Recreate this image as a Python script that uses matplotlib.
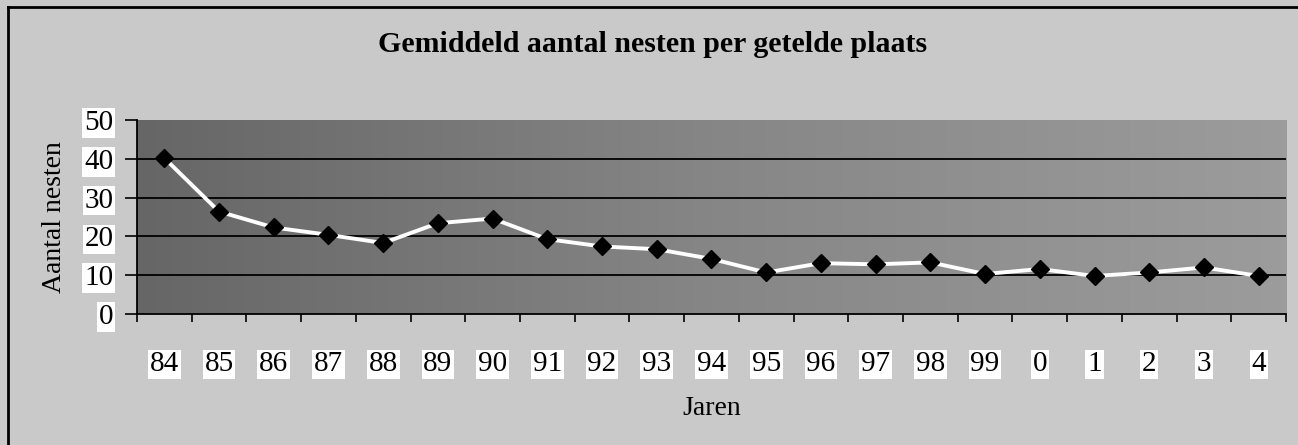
import numpy as np
import matplotlib
matplotlib.use("Agg")
import matplotlib.pyplot as plt
from matplotlib.colors import LinearSegmentedColormap

# Données
jaren = ["84", "85", "86", "87", "88", "89", "90", "91", "92", "93", "94",
         "95", "96", "97", "98", "99", "0", "1", "2", "3", "4"]
nesten = [40.2, 26.4, 22.3, 20.4, 18.3, 23.4, 24.6, 19.3, 17.4, 16.7, 14.2,
          10.7, 13.1, 12.8, 13.3, 10.3, 11.6, 9.8, 10.7, 12.0, 9.8]
y_ticks = [0, 10, 20, 30, 40, 50]

plt.rcParams['font.family'] = ['Liberation Serif', 'DejaVu Serif']

fig = plt.figure(figsize=(12.98, 4.45), dpi=100)
fig.patch.set_facecolor("#c9c9c9")
ax = fig.add_axes([0.1055, 0.2944, 0.8853, 0.4359])

# fond du graphique en dégradé (plus sombre à gauche)
cmap = LinearSegmentedColormap.from_list("fond", ["#666666", "#868686", "#9c9c9c"])
ax.imshow(np.linspace(0, 1, 256).reshape(1, -1), cmap=cmap, aspect="auto",
          extent=[0, 1, 0, 1], transform=ax.transAxes, zorder=0)

x = np.arange(len(jaren))
ax.plot(x, nesten, color="white", lw=2.8, zorder=3)
ax.plot(x, nesten, linestyle="none", marker="D", markersize=9.5,
        color="black", zorder=4)

ax.set_xlim(-0.5, len(jaren) - 0.5)
ax.set_ylim(0, 50)

# quadrillage horizontal
for v in y_ticks[1:-1]:
    ax.axhline(v, color="black", lw=1.3, zorder=2)

for s in ["top", "right"]:
    ax.spines[s].set_visible(False)
ax.spines["left"].set_linewidth(1.3)
ax.spines["bottom"].set_linewidth(1.3)
ax.spines["left"].set_zorder(5)
ax.spines["bottom"].set_zorder(5)

# graduations de l'axe x aux limites des catégories, étiquettes au centre
ax.set_xticks(np.arange(-0.5, len(jaren)), labels=[""] * (len(jaren) + 1))
ax.tick_params(axis="x", which="major", direction="out", length=6, width=1.2)
ax.set_xticks(x, labels=jaren, minor=True)
ax.tick_params(axis="x", which="minor", length=0, pad=27, labelsize=21)
for lab in ax.get_xticklabels(minor=True):
    lab.set_bbox(dict(facecolor="white", edgecolor="none", pad=1.2))

ax.set_yticks(y_ticks, labels=[str(v) for v in y_ticks])
ax.tick_params(axis="y", direction="out", length=9, width=1.2, pad=8, labelsize=21)
for lab in ax.get_yticklabels():
    lab.set_bbox(dict(facecolor="white", edgecolor="none", pad=1.2))

fig.text(0.503, 0.90, "Gemiddeld aantal nesten per getelde plaats",
         ha="center", va="center", fontsize=21.5, fontweight="bold")
fig.text(0.548, 0.083, "Jaren", ha="center", va="center", fontsize=20)
fig.text(0.042, 0.512, "Aantal nesten", ha="center", va="center",
         fontsize=20, rotation=90)

# cadre extérieur
fig.add_artist(plt.Line2D([0.006, 1], [0.984, 0.984], color="black", lw=2,
                          transform=fig.transFigure))
fig.add_artist(plt.Line2D([0.006, 0.006], [0, 0.984], color="black", lw=2,
                          transform=fig.transFigure))

fig.savefig("out.png", dpi=100)
